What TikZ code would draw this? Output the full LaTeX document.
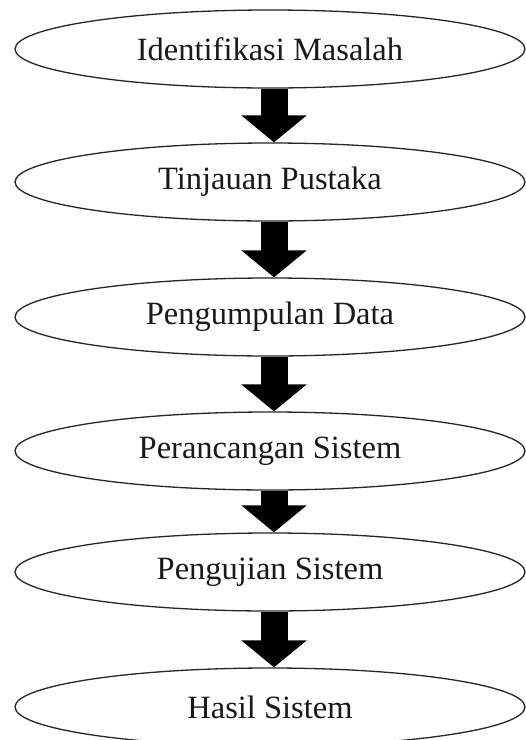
\documentclass[tikz,border=0pt]{standalone}
\usepackage{fontspec}
\setmainfont{Liberation Serif}
\usetikzlibrary{arrows.meta,shapes.geometric}
\begin{document}
\begin{tikzpicture}[x=1pt,y=-1pt,
  stage/.style={ellipse, draw=black!85, line width=1.3pt, fill=white,
    minimum width=510pt, minimum height=78pt, inner sep=0pt,
    font=\fontsize{32.5}{36}\selectfont, text=black!90},
  flow/.style={black, line width=27pt,
    -{Triangle[width=64pt,length=27pt]}}]
  % page frame
  \fill[white] (0,0) rectangle (526,740);
  \useasboundingbox (0,0) rectangle (526,740);

  % process stages
  \node[stage] (s1) at (270,49)  {Identifikasi Masalah};
  \node[stage] (s2) at (270,182) {Tinjauan Pustaka};
  \node[stage] (s3) at (270,317) {Pengumpulan Data};
  \node[stage] (s4) at (270,451) {Perancangan Sistem};
  \node[stage] (s5) at (270,572) {Pengujian Sistem};
  \node[stage] (s6) at (270,707) {Hasil Sistem};

  % block arrows between stages
  \foreach \a/\b in {s1/s2, s2/s3, s3/s4, s4/s5, s5/s6}
    \draw[flow] ([xshift=4pt]\a.south) -- ([xshift=4pt]\b.north);
\end{tikzpicture}
\end{document}
